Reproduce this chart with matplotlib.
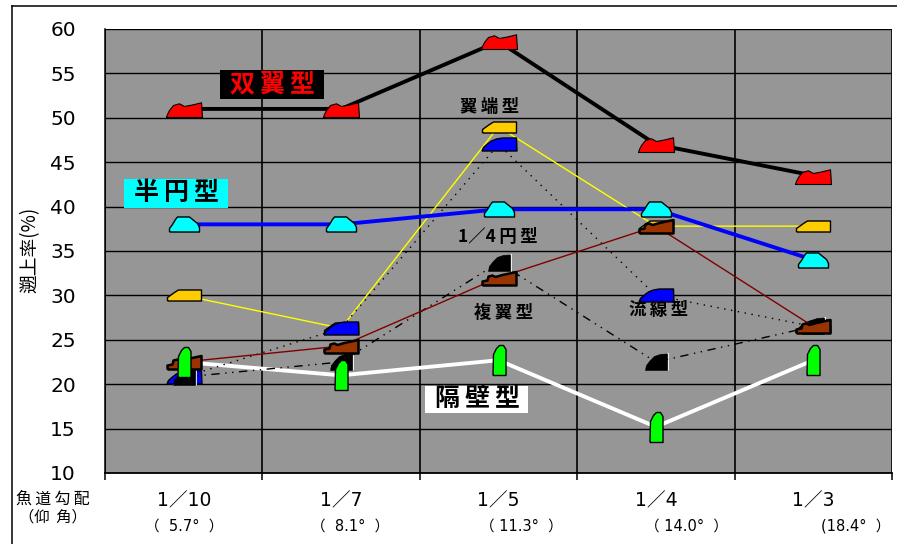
import numpy as np
import matplotlib
matplotlib.use('Agg')
import matplotlib.pyplot as plt
from matplotlib.lines import Line2D
from matplotlib.markers import MarkerStyle
from matplotlib.patches import Rectangle
from matplotlib.path import Path

plt.rcParams['font.family'] = ['DejaVu Sans', 'Noto Sans CJK JP']

W, H = 897, 544
DPI = 100

slopes = ['1／10', '1／7', '1／5', '1／4', '1／3']
angle_labels = ['（  5.7°  ）', '（  8.1°  ）', '（ 11.3°  ）', '（ 14.0°  ）', '(18.4°  ）']
yticks = [10, 15, 20, 25, 30, 35, 40, 45, 50, 55, 60]

double_wing = [51, 51, 58.6, 47, 43.5]
half_circle = [38, 38, 39.7, 39.7, 34]
wing_tip = [30, 26.3, 49, 37.8, 37.8]
streamline = [20.8, 26.3, 47, 30, 26.5]
quarter_circle = [20.8, 22.5, 33.7, 22.5, 26.5]
compound_wing = [22.5, 24.3, 32, 37.8, 26.5]
partition = [22.5, 21, 22.7, 15.2, 22.7]

# marker outlines, pixel offsets from the data point
red_shape = [(-18, -8), (-17, -5), (-15, -1), (-11, 4), (-5, 5.7), (0, 3), (8, 4.5), (17, 6.7), (18, -8), (-18, -8)]
cyan_shape = [(-15, -7.5), (-15, -4), (-12, 0), (-9, 5), (-7, 7.5), (5, 7.5), (8, 5), (13, 1), (15, -3), (15, -7.5), (-15, -7.5)]
yellow_shape = [(-17, -5.5), (-17, -2), (-10, 3), (-6, 5.5), (17, 5.5), (17, -5.5), (-17, -5.5)]
blue_shape = [(-17.5, -6.5), (-16, -3), (-12, 0.5), (-8, 3.5), (-3, 5.5), (3, 6.5), (17, 6.5), (17.5, -6.5), (-17.5, -6.5)]
brown_shape = [(-17, -7), (-17, -3), (-12, -2), (-11, 2), (-7, 3), (-4, 1.5), (3, 3.5), (10, 5), (17, 6.5), (17, -7), (-17, -7)]
black_shape = [(-11, -8), (-10, -3), (-6, 2), (-2, 6), (4, 8), (11, 8.5), (11, -8), (-11, -8)]
white_edge = [(-11, -8), (12, -8), (12, 9)]
green_shape = [(-6.5, -15), (-6, 6), (-3, 12), (0, 15), (4, 15), (6.5, 11), (6.5, -15), (-6.5, -15)]


def make_marker(shape):
    pts = np.array(shape, dtype=float)
    size = 2 * np.abs(pts).max() * 72 / DPI
    return MarkerStyle(Path(pts), joinstyle='round'), size


def draw(ax, values, shape, line_color, lw, ls, face, edge, mew, z):
    marker, size = make_marker(shape)
    ax.plot(range(5), values, color=line_color, lw=lw, ls=ls, zorder=z, clip_on=False)
    ax.plot(range(5), values, ls='none', marker=marker, ms=size, mfc=face, mec=edge, mew=mew,
            zorder=z + 0.5, clip_on=False)


fig = plt.figure(figsize=(W / DPI, H / DPI), dpi=DPI)
ax = fig.add_axes([105 / W, 1 - 473 / H, (892 - 105) / W, (473 - 29) / H])
ax.set_facecolor('#969696')
ax.set_xlim(-0.5, 4.5)
ax.set_ylim(10, 60)

ax.set_yticks(yticks)
ax.set_yticklabels([str(v) for v in yticks], fontsize=14.5)
ax.tick_params(axis='y', length=0, pad=21)
ax.set_xticks(range(5))
ax.set_xticklabels(slopes, fontsize=13.5)
ax.tick_params(axis='x', which='major', length=0, pad=13)
ax.set_xticks(np.arange(-0.5, 5), minor=True)
ax.tick_params(axis='x', which='minor', length=5, width=1.1)
ax.grid(axis='y', color='black', lw=1)
ax.grid(axis='x', which='minor', color='black', lw=1.2)
ax.set_axisbelow(True)
for side in ['top', 'right']:
    ax.spines[side].set_visible(False)
ax.spines['left'].set_linewidth(1.1)
ax.spines['bottom'].set_linewidth(1.3)

ax.plot(range(5), partition, color='white', lw=2.8, zorder=2, clip_on=False)
draw(ax, wing_tip, yellow_shape, '#ffff00', 1, '-', '#ffcc00', 'black', 1, 3)
draw(ax, streamline, blue_shape, 'black', 1, (0, (1, 4)), '#0000ff', 'black', 1, 4)
edge_marker, edge_size = make_marker(white_edge)
ax.plot(range(5), quarter_circle, ls='none', marker=edge_marker, ms=edge_size, mfc='none', mec='white',
        mew=1.2, zorder=5, clip_on=False)
draw(ax, quarter_circle, black_shape, 'black', 1, (0, (6, 4, 1, 4, 1, 4)), 'black', 'black', 0.5, 5)
draw(ax, compound_wing, brown_shape, '#800000', 1, '-', '#993300', 'black', 1.8, 6)
draw(ax, half_circle, cyan_shape, '#0000ff', 2.8, '-', '#00ffff', 'black', 1, 7)
draw(ax, double_wing, red_shape, 'black', 2.8, '-', '#ff0000', 'black', 0.8, 8)
# green markers sit above everything else, their line stays below
green_marker, green_size = make_marker(green_shape)
ax.plot(range(5), partition, ls='none', marker=green_marker, ms=green_size, mfc='#00ff00', mec='black',
        mew=1, zorder=9, clip_on=False)


def px_text(x, y, s, **kw):
    kw.setdefault('ha', 'center')
    kw.setdefault('va', 'center')
    return fig.text(x / W, 1 - y / H, s, **kw)


def px_box(x0, y0, x1, y1, color):
    fig.add_artist(Rectangle((x0 / W, 1 - y1 / H), (x1 - x0) / W, (y1 - y0) / H, fc=color, ec='none',
                             transform=fig.transFigure, zorder=19))


label_font = ['Noto Sans CJK JP', 'DejaVu Sans']
gap = '\u2009'
big = dict(fontsize=18, fontweight='bold', family=label_font, zorder=20)
small = dict(fontsize=12.5, fontweight='bold', family=label_font, zorder=20)

px_box(220, 70, 324, 99, 'black')
px_text(272, 84, gap.join('双翼型'), color='#ff0000', **big)
px_box(124, 179, 228, 208, '#00ffff')
px_text(176, 193, gap.join('半円型'), color='black', **big)
px_box(425, 386, 528, 413, 'white')
px_text(477, 399, gap.join('隔壁型'), color='black', **big)
px_text(490, 107, gap.join('翼端型'), **small)
px_text(498, 237, gap.join(['1／4', '円', '型']), **small)
px_text(504, 313, gap.join('複翼型'), **small)
px_text(659, 310, gap.join('流線型'), **small)

px_text(30, 250, '遡上率(%)', rotation=90, fontsize=13.5, family=label_font)
px_text(53, 499, gap.join('魚道勾配'), fontsize=11.5, family=label_font)
px_text(53, 517, '（仰  角）', fontsize=11, family=label_font)

angle_x = [184, 350, 521, 686, 856]
for x, s in zip(angle_x, angle_labels):
    px_text(x, 526, s, fontsize=10.5, family=['DejaVu Sans', 'Noto Sans CJK JP'])

# outer frame, top and left only
fig.add_artist(Line2D([12 / W, 12 / W], [0, 1 - 6 / H], color='black', lw=1.1))
fig.add_artist(Line2D([12 / W, 1], [1 - 6 / H, 1 - 6 / H], color='black', lw=1.1))

fig.savefig('out.png', dpi=DPI)
